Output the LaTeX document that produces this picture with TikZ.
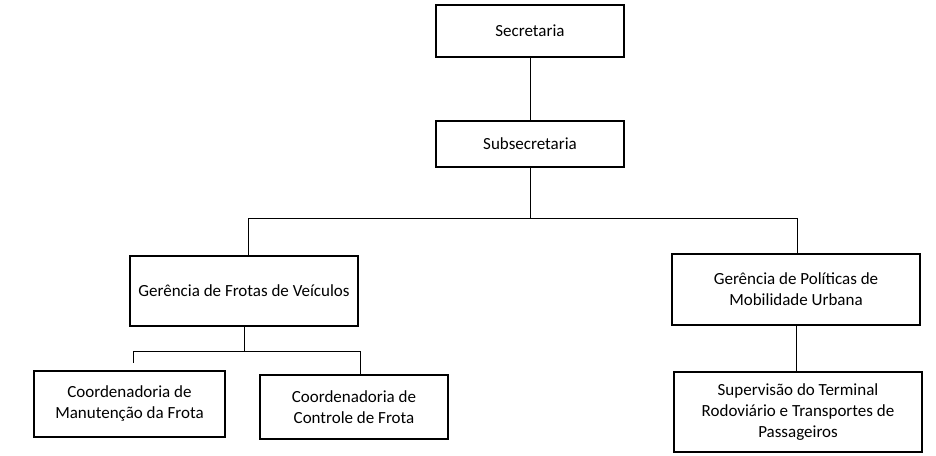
\documentclass[tikz,border=0pt]{standalone}
\usepackage{fontspec}
\setmainfont{Carlito}
\begin{document}
\begin{tikzpicture}[x=1pt,y=-1pt,
 box/.style={draw,line width=1.2pt,align=center,font=\fontsize{17}{21}\selectfont,inner sep=0pt},
 ln/.style={line width=0.8pt}]
\useasboundingbox (0,0) rectangle (936,455);
\node[box,minimum width=188,minimum height=52] (sec) at (530,31) {Secretaria};
\node[box,minimum width=188,minimum height=46] (sub) at (530,144) {Subsecretaria};
\node[box,minimum width=228,minimum height=70] (gf) at (244,291) {Gerência de Frotas de Veículos};
\node[box,minimum width=248,minimum height=71] (gp) at (796,289.5) {Gerência de Políticas de\\Mobilidade Urbana};
\node[box,minimum width=191,minimum height=66] (cm) at (129.5,404) {Coordenadoria de\\Manutenção da Frota};
\node[box,minimum width=188,minimum height=64] (cc) at (354,407) {Coordenadoria de\\Controle de Frota};
\node[box,minimum width=248,minimum height=80] (sv) at (798,412) {Supervisão do Terminal\\Rodoviário e Transportes de\\Passageiros};
\coordinate (j1) at (530,218);
\coordinate (j2) at (244,351);
\draw[ln] (sec) -- (sub);
\draw[ln] (sub) -- (j1);
\draw[ln] (248,218) -- (797,218);
\draw[ln] (248,218) -- (248,256);
\draw[ln] (797,218) -- (797,254);
\draw[ln] (gf) -- (j2);
\draw[ln] (133,351) -- (360,351);
\draw[ln] (133,351) -- (133,363);
\draw[ln] (360,351) -- (cc.north -| 360,0);
\draw[ln] (gp) -- (gp.south |- sv.north);
\end{tikzpicture}
\end{document}
